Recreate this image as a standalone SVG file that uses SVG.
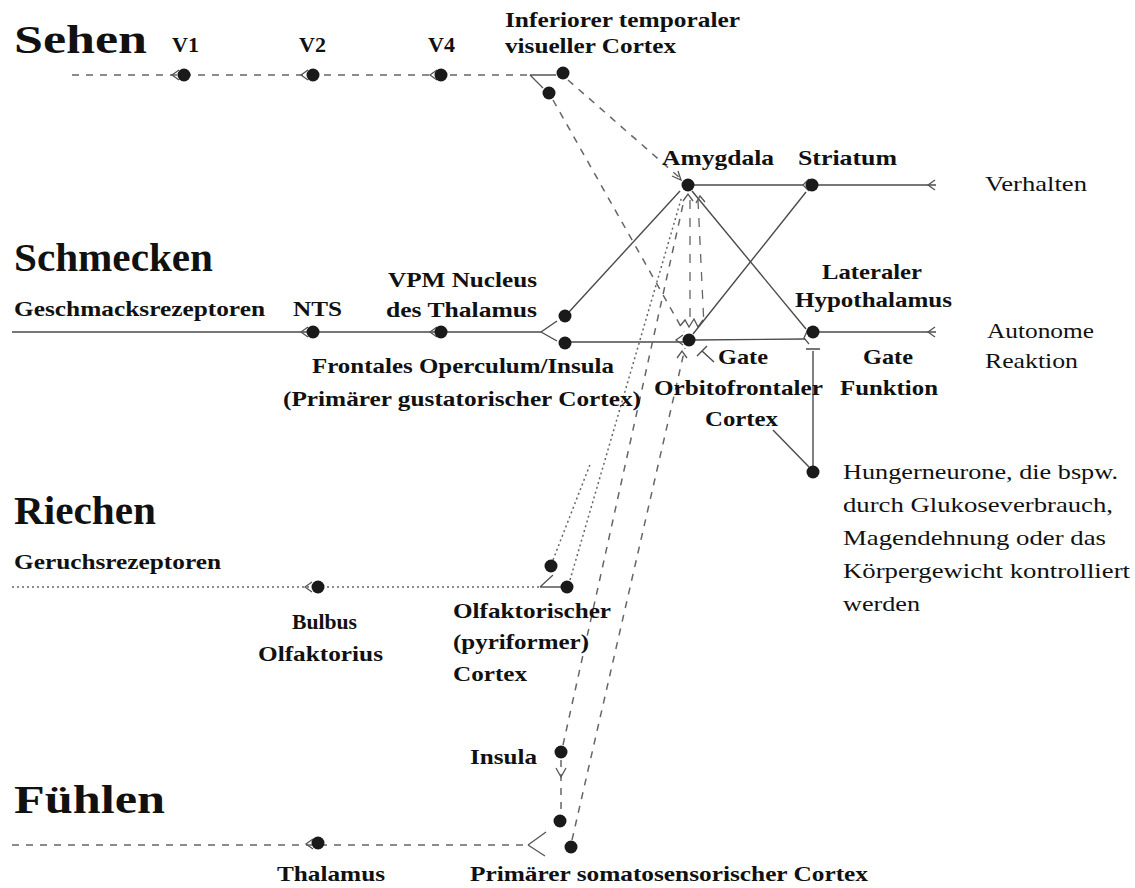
<svg xmlns="http://www.w3.org/2000/svg" width="1135" height="888" viewBox="0 0 1135 888">
<style>
.b{font-family:"Liberation Serif","Times New Roman",serif;font-weight:bold;font-size:22px;fill:#111}
.h{font-family:"Liberation Serif","Times New Roman",serif;font-weight:bold;font-size:40px;fill:#111}
.r{font-family:"Liberation Serif","Times New Roman",serif;font-size:22px;fill:#111}
.s{fill:none;stroke:#4a4a4a;stroke-width:1.4}
.d{fill:none;stroke:#666;stroke-width:1.5;stroke-dasharray:7 7}
.dl{fill:none;stroke:#666;stroke-width:1.3;stroke-dasharray:9 9}
.o{fill:none;stroke:#666;stroke-width:1.5;stroke-dasharray:2 3}
.c{fill:none;stroke:#555;stroke-width:1.3}
.n{fill:#1a1a1a}
</style>
<defs>
<path id="chev" d="M7,-5 L0,0 L7,5" class="c"/>
</defs>

<g id="headings">
<text class="h" x="14" y="53" textLength="133" lengthAdjust="spacingAndGlyphs">Sehen</text>
<text class="h" x="14" y="271" textLength="199" lengthAdjust="spacingAndGlyphs">Schmecken</text>
<text class="h" x="14" y="524" textLength="142" lengthAdjust="spacingAndGlyphs">Riechen</text>
<text class="h" x="14" y="813" textLength="151" lengthAdjust="spacingAndGlyphs">Fühlen</text>
</g>

<g id="connectors">
<!-- Sehen -->
<path class="d" d="M72,75 H530"/>
<path class="c" d="M530,75 H556 M530,75 L543,88"/>
<use href="#chev" x="172" y="75"/>
<use href="#chev" x="301" y="75"/>
<use href="#chev" x="430" y="75"/>
<path class="d" d="M568,80 L680,178"/>
<path class="d" d="M553,100 L684,332"/>
<path class="c" d="M672,176 L681,180 L678,171"/>
<!-- Amygdala / Striatum / LH / OFC -->
<path class="s" d="M694,185 H803"/>
<path class="c" d="M809,179 L803,185 L809,191"/>
<path class="s" d="M818,185 H936"/>
<use href="#chev" x="928" y="185"/>
<path class="s" d="M693,334 L806,192"/>
<path class="s" d="M692,191 L806,329"/>
<path class="s" d="M695,340 L805,339"/>
<path class="c" d="M809,327 L804,338 L809,344"/>
<path class="s" d="M819,332 H936"/>
<use href="#chev" x="928" y="332"/>
<path class="s" d="M813,351 V466 M806,349 H820"/>
<path class="s" d="M809,467 L773,430"/>
<path class="s" d="M714,362 L702,351 M697,356 L707,346"/>
<!-- Amygdala to OFC dashed pair -->
<path class="dl" d="M690,200 V326"/>
<path class="dl" d="M698,200 L704,326"/>
<path class="c" d="M680,326 L685,320 L689,327 L694,319 L698,327 L703,320"/>
<path class="c" d="M683,201 L688,194 L693,201 M696,203 L700,196 L705,202"/>
<!-- Schmecken -->
<path class="s" d="M12,332 H541"/>
<use href="#chev" x="301" y="332"/>
<use href="#chev" x="430" y="332"/>
<path class="s" d="M541,332 L557,321 M541,332 L557,341"/>
<path class="s" d="M569,312 L680,191"/>
<path class="s" d="M571,342 H683"/>
<use href="#chev" x="676" y="340"/>
<path class="c" d="M677,358 L682,351 L687,358"/>
<!-- Riechen -->
<path class="o" d="M12,587 H540"/>
<use href="#chev" x="305" y="587"/>
<path class="c" d="M540,587 H561 M540,587 L553,575"/>
<path class="o" d="M553,560 L591,462"/>
<path class="o" d="M570,580 L682,196"/>
<!-- Insula / Fühlen -->
<path class="d" d="M563,745 L684,200"/>
<path class="d" d="M561,760 V815"/>
<path class="c" d="M556,768 L561,777 L566,768"/>
<path class="d" d="M572,840 L685,348"/>
<path class="d" d="M12,845 H528"/>
<use href="#chev" x="306" y="844"/>
<path class="c" d="M528,845 L546,832 M528,845 L545,856"/>
</g>

<g id="n-v1"><circle class="n" cx="184" cy="75" r="6.5"/><text class="b" x="172" y="52">V1</text></g>
<g id="n-v2"><circle class="n" cx="313" cy="75" r="6.5"/><text class="b" x="299" y="52">V2</text></g>
<g id="n-v4"><circle class="n" cx="441" cy="75" r="6.5"/><text class="b" x="428" y="52">V4</text></g>
<g id="n-it"><circle class="n" cx="563" cy="73" r="6.5"/><circle class="n" cx="549" cy="93" r="6.5"/>
<text class="b" x="505" y="27" textLength="235" lengthAdjust="spacingAndGlyphs">Inferiorer temporaler</text>
<text class="b" x="505" y="53" textLength="171" lengthAdjust="spacingAndGlyphs">visueller Cortex</text></g>
<g id="n-amygdala"><circle class="n" cx="688" cy="185" r="6.5"/><text class="b" x="662" y="165" textLength="112" lengthAdjust="spacingAndGlyphs">Amygdala</text></g>
<g id="n-striatum"><circle class="n" cx="812" cy="185" r="6.5"/><text class="b" x="798" y="165" textLength="99" lengthAdjust="spacingAndGlyphs">Striatum</text></g>
<g id="out-verhalten"><text class="r" x="985" y="191" textLength="102" lengthAdjust="spacingAndGlyphs">Verhalten</text></g>
<g id="n-geschmack"><text class="b" x="14" y="316" textLength="251" lengthAdjust="spacingAndGlyphs">Geschmacksrezeptoren</text></g>
<g id="n-nts"><circle class="n" cx="313" cy="332" r="6.5"/><text class="b" x="293" y="316" textLength="49" lengthAdjust="spacingAndGlyphs">NTS</text></g>
<g id="n-vpm"><circle class="n" cx="441" cy="332" r="6.5"/>
<text class="b" x="388" y="287" textLength="149" lengthAdjust="spacingAndGlyphs">VPM Nucleus</text>
<text class="b" x="386" y="317" textLength="151" lengthAdjust="spacingAndGlyphs">des Thalamus</text></g>
<g id="n-operculum"><circle class="n" cx="565" cy="316" r="6.5"/><circle class="n" cx="565" cy="343" r="6.5"/>
<text class="b" x="312" y="373" textLength="302" lengthAdjust="spacingAndGlyphs">Frontales Operculum/Insula</text>
<text class="b" x="283" y="406" textLength="358" lengthAdjust="spacingAndGlyphs">(Primärer gustatorischer Cortex)</text></g>
<g id="n-ofc"><circle class="n" cx="689" cy="340" r="6.5"/>
<text class="b" x="718" y="364" textLength="50" lengthAdjust="spacingAndGlyphs">Gate</text>
<text class="b" x="654" y="395" textLength="169" lengthAdjust="spacingAndGlyphs">Orbitofrontaler</text>
<text class="b" x="705" y="426" textLength="73" lengthAdjust="spacingAndGlyphs">Cortex</text></g>
<g id="n-lh"><circle class="n" cx="813" cy="332" r="6.5"/>
<text class="b" x="822" y="279" textLength="100" lengthAdjust="spacingAndGlyphs">Lateraler</text>
<text class="b" x="795" y="307" textLength="157" lengthAdjust="spacingAndGlyphs">Hypothalamus</text>
<text class="b" x="863" y="364" textLength="50" lengthAdjust="spacingAndGlyphs">Gate</text>
<text class="b" x="840" y="395" textLength="98" lengthAdjust="spacingAndGlyphs">Funktion</text></g>
<g id="out-autonom"><text class="r" x="987" y="338" textLength="107" lengthAdjust="spacingAndGlyphs">Autonome</text>
<text class="r" x="985" y="368" textLength="93" lengthAdjust="spacingAndGlyphs">Reaktion</text></g>
<g id="n-hunger"><circle class="n" cx="813" cy="472" r="6.5"/>
<text class="r" x="843" y="479" textLength="275" lengthAdjust="spacingAndGlyphs">Hungerneurone, die bspw.</text>
<text class="r" x="843" y="512" textLength="270" lengthAdjust="spacingAndGlyphs">durch Glukoseverbrauch,</text>
<text class="r" x="843" y="545" textLength="263" lengthAdjust="spacingAndGlyphs">Magendehnung oder das</text>
<text class="r" x="843" y="578" textLength="287" lengthAdjust="spacingAndGlyphs">Körpergewicht kontrolliert</text>
<text class="r" x="843" y="611" textLength="77" lengthAdjust="spacingAndGlyphs">werden</text></g>
<g id="n-geruch"><text class="b" x="14" y="569" textLength="207" lengthAdjust="spacingAndGlyphs">Geruchsrezeptoren</text></g>
<g id="n-bulbus"><circle class="n" cx="318" cy="587" r="6.5"/>
<text class="b" x="292" y="629" textLength="65" lengthAdjust="spacingAndGlyphs">Bulbus</text>
<text class="b" x="258" y="661" textLength="125" lengthAdjust="spacingAndGlyphs">Olfaktorius</text></g>
<g id="n-olf"><circle class="n" cx="551" cy="566" r="6.5"/><circle class="n" cx="567" cy="587" r="6.5"/>
<text class="b" x="453" y="618" textLength="158" lengthAdjust="spacingAndGlyphs">Olfaktorischer</text>
<text class="b" x="453" y="649" textLength="136" lengthAdjust="spacingAndGlyphs">(pyriformer)</text>
<text class="b" x="453" y="681" textLength="74" lengthAdjust="spacingAndGlyphs">Cortex</text></g>
<g id="n-insula"><circle class="n" cx="561" cy="752" r="6.5"/><text class="b" x="470" y="764" textLength="67" lengthAdjust="spacingAndGlyphs">Insula</text></g>
<g id="n-ss"><circle class="n" cx="560" cy="821" r="6.5"/><circle class="n" cx="571" cy="847" r="6.5"/>
<text class="b" x="470" y="881" textLength="398" lengthAdjust="spacingAndGlyphs">Primärer somatosensorischer Cortex</text></g>
<g id="n-thalamus"><circle class="n" cx="318" cy="843" r="6.5"/><text class="b" x="277" y="881" textLength="108" lengthAdjust="spacingAndGlyphs">Thalamus</text></g>
</svg>
